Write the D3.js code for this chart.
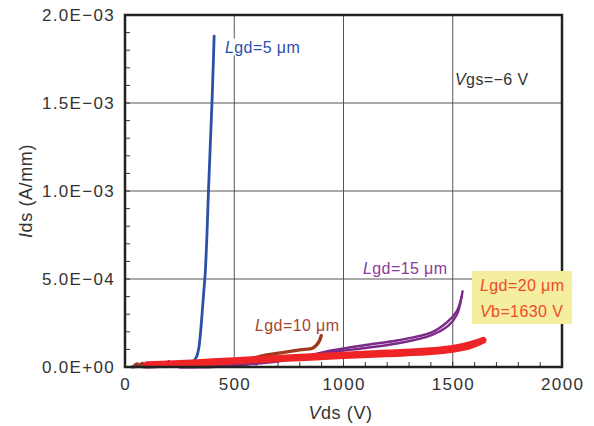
<!DOCTYPE html>
<html>
<head>
<meta charset="utf-8">
<script src="https://cdn.jsdelivr.net/npm/d3@7/dist/d3.min.js"></script>
<style>
  html, body { margin: 0; padding: 0; background: #fff; }
  svg text { font-family: "Liberation Sans", Arial, sans-serif; }
</style>
</head>
<body>
<svg id="chart" width="594" height="426"></svg>
<script>
// Off-state Ids–Vds characteristics at Vgs = -6 V for several gate-drain spacings
const xTicks = [0, 500, 1000, 1500, 2000];
const yTicks = [0, 5e-4, 1e-3, 1.5e-3, 2e-3];
const yTickLabels = ["0.0E+00", "5.0E\u221204", "1.0E\u221203", "1.5E\u221203", "2.0E\u221203"];

// [Vds (V), Ids (A/mm)]
const lgd5 = [[30,0],[60,2e-6],[100,0],[150,2e-6],[200,3e-6],[250,5e-6],[280,1e-5],[300,2e-5],
  [315,3.5e-5],[328,6e-5],[338,1.1e-4],[346,2e-4],[352,2.9e-4],[360,4.2e-4],[367,5.3e-4],
  [375,7.5e-4],[382,1.0e-3],[390,1.25e-3],[398,1.5e-3],[404,1.72e-3],[408,1.88e-3]];

const lgd10 = [[40,3e-6],[55,1.8e-5],[65,9e-6],[80,2e-5],[95,6e-6],[150,8e-6],[250,1.2e-5],
  [350,1.8e-5],[450,2.6e-5],[550,4.2e-5],[650,6.8e-5],[720,8.2e-5],[800,9.7e-5],[860,1.08e-4],
  [880,1.3e-4],[892,1.55e-4],[898,1.78e-4]];

const lgd15Up = [[180,0],[190,1e-5],[200,3.5e-5],[210,8e-6],[225,2.2e-5],[240,4e-6],[400,6e-6],
  [600,2.2e-5],[800,5.5e-5],[950,9.5e-5],[1100,1.25e-4],[1250,1.52e-4],[1400,1.95e-4],
  [1470,2.5e-4],[1515,3.1e-4],[1535,3.7e-4],[1545,4.3e-4]];
const lgd15Down = [[1540,4.0e-4],[1520,3.0e-4],[1480,2.35e-4],[1400,1.8e-4],[1250,1.35e-4],
  [1100,1.08e-4],[950,8.5e-5],[800,5e-5],[600,1.8e-5],[400,0],[250,-2e-6]];

const lgd20Up = [[100,1.5e-5],[200,2e-5],[400,3.2e-5],[600,4.6e-5],[800,5.8e-5],[1000,7e-5],
  [1200,8.2e-5],[1400,9.5e-5],[1500,1.08e-4],[1580,1.3e-4],[1640,1.55e-4]];
const lgd20Down = [[1640,1.5e-4],[1580,1.18e-4],[1500,9.8e-5],[1400,8.5e-5],[1200,7.2e-5],
  [1000,6.2e-5],[800,5e-5],[600,3.8e-5],[400,2.5e-5],[200,1.3e-5],[100,1e-5]];

const svg = d3.select("#chart");
const margin = {left: 125, right: 32, top: 15, bottom: 59};
const W = 594, H = 426;
const x = d3.scaleLinear().domain([0, 2000]).range([margin.left, W - margin.right]);
const y = d3.scaleLinear().domain([0, 2e-3]).range([H - margin.bottom, margin.top]);

const x0 = x(0), x1 = x(2000), y0 = y(0), y1 = y(2e-3);

// grid
const grid = svg.append("g").attr("stroke", "#555").attr("stroke-width", 1);
xTicks.slice(1, -1).forEach(v => grid.append("line")
  .attr("x1", x(v)).attr("x2", x(v)).attr("y1", y1).attr("y2", y0));
yTicks.slice(1, -1).forEach(v => grid.append("line")
  .attr("y1", y(v)).attr("y2", y(v)).attr("x1", x0).attr("x2", x1));

// minor ticks, pointing inward
const minor = svg.append("g").attr("stroke", "#333").attr("stroke-width", 1);
d3.range(0, 2000, 100).forEach(v => minor.append("line")
  .attr("x1", x(v)).attr("x2", x(v)).attr("y1", y0).attr("y2", y0 - 5));
d3.range(0, 20).map(i => i * 1e-4).forEach(v => minor.append("line")
  .attr("y1", y(v)).attr("y2", y(v)).attr("x1", x0).attr("x2", x0 + 5));

// curves
const line = d3.line().x(d => x(d[0])).y(d => y(d[1])).curve(d3.curveCatmullRom.alpha(0.5));
const plot = svg.append("g").attr("fill", "none").attr("stroke-linecap", "round").attr("stroke-linejoin", "round");
plot.append("path").datum(lgd5).attr("d", line).attr("stroke", "#2c4fa8").attr("stroke-width", 2.8);
plot.append("path").datum(lgd15Up).attr("d", line).attr("stroke", "#7b2a88").attr("stroke-width", 2.4);
plot.append("path").datum(lgd15Down).attr("d", line).attr("stroke", "#7b2a88").attr("stroke-width", 2.4);
plot.append("path").datum(lgd10).attr("d", line).attr("stroke", "#9e3a20").attr("stroke-width", 3.4);
plot.append("path").datum(lgd20Up).attr("d", line).attr("stroke", "#ee2427").attr("stroke-width", 6);
plot.append("path").datum(lgd20Down).attr("d", line).attr("stroke", "#ee2427").attr("stroke-width", 6);

// frame
svg.append("rect").attr("x", x0).attr("y", y1).attr("width", x1 - x0).attr("height", y0 - y1)
  .attr("fill", "none").attr("stroke", "#222").attr("stroke-width", 2.5);

// tick labels
svg.append("g").selectAll("text").data(xTicks).join("text")
  .attr("x", d => x(d) + 0.7).attr("y", y0 + 17).attr("dy", "0.35em")
  .attr("text-anchor", "middle").attr("font-size", "17px").attr("fill", "#333")
  .attr("letter-spacing", "1.4px")
  .text(d => d);
svg.append("g").selectAll("text").data(yTicks).join("text")
  .attr("x", x0 - 10).attr("y", d => y(d)).attr("dy", "0.35em")
  .attr("text-anchor", "end").attr("font-size", "17px").attr("fill", "#333")
  .attr("letter-spacing", "1.3px")
  .text((d, i) => yTickLabels[i]);

// axis titles
function italicLead(sel, lead, rest) {
  sel.append("tspan").attr("font-style", "italic").text(lead);
  sel.append("tspan").text(rest);
}
const xt = svg.append("text").attr("x", (x0 + x1) / 2 - 3).attr("y", 413).attr("dy", "0.35em")
  .attr("text-anchor", "middle").attr("font-size", "18px").attr("fill", "#333")
  .attr("letter-spacing", "0.6px");
italicLead(xt, "V", "ds (V)");
const yt = svg.append("text").attr("transform", `translate(26,${(y0 + y1) / 2}) rotate(-90)`)
  .attr("dy", "0.35em").attr("text-anchor", "middle").attr("font-size", "18px").attr("fill", "#333")
  .attr("letter-spacing", "0.6px");
italicLead(yt, "I", "ds (A/mm)");

// series annotations
function note(px, py, lead, rest, color, bg) {
  const t = svg.append("text").attr("x", px).attr("y", py).attr("dy", "0.35em")
    .attr("font-size", "16px").attr("fill", color).attr("letter-spacing", "0.4px");
  italicLead(t, lead, rest);
  if (bg) {
    const b = t.node().getBBox();
    svg.insert("rect", () => t.node()).attr("x", b.x - 2).attr("y", b.y).attr("width", b.width + 4)
      .attr("height", b.height).attr("fill", bg);
  }
  return t;
}
note(225, 47, "L", "gd=5 \u03bcm", "#2c4fa8", "#fff");
note(455, 79, "V", "gs=\u22126 V", "#333");
note(363, 268, "L", "gd=15 \u03bcm", "#8a3a98");
note(255, 325, "L", "gd=10 \u03bcm", "#a6452c");

svg.append("rect").attr("x", 472).attr("y", 271).attr("width", 100).attr("height", 53)
  .attr("fill", "#f4ee9e");
note(480, 285, "L", "gd=20 \u03bcm", "#ee4a2c");
note(480, 311, "V", "b=1630 V", "#ee4a2c");
</script>
</body>
</html>
